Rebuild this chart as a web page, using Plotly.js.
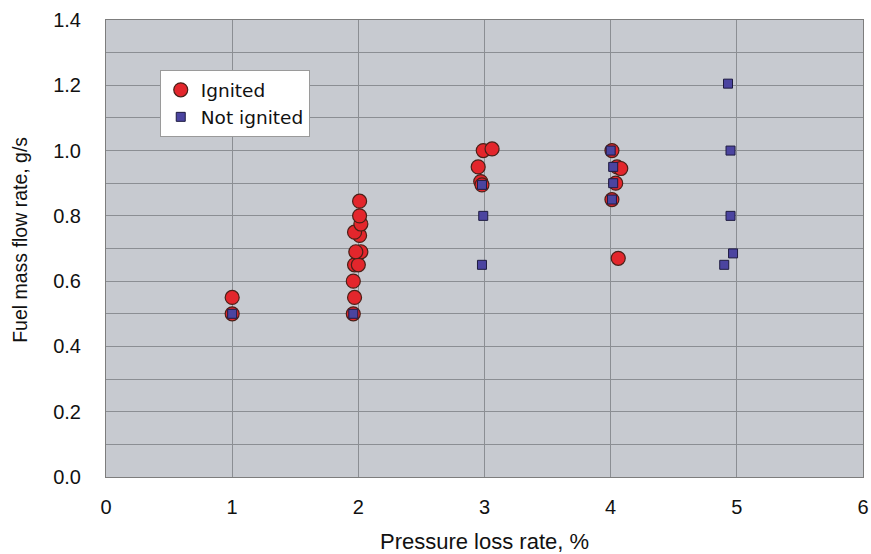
<!DOCTYPE html>
<html>
<head>
<meta charset="utf-8">
<script src="https://cdn.plot.ly/plotly-3.0.1.min.js"></script>
<style>html,body{margin:0;padding:0;background:#fff;}#chart{width:871px;height:554px;}</style>
</head>
<body>
<div id="chart"></div>
<script>
// Ignited (red circles)
const ignitedX = [1.00, 1.00, 1.96, 1.97, 1.96, 1.97, 2.00, 2.02, 1.98, 2.01, 1.97, 2.02, 2.01, 2.01, 2.99, 3.06, 2.95, 2.97, 2.98, 4.01, 4.05, 4.08, 4.04, 4.01, 4.06];
const ignitedY = [0.55, 0.50, 0.50, 0.55, 0.60, 0.65, 0.65, 0.69, 0.69, 0.74, 0.75, 0.775, 0.80, 0.845, 1.00, 1.005, 0.95, 0.905, 0.895, 1.00, 0.95, 0.945, 0.90, 0.85, 0.67];
// Not ignited (blue squares)
const notX = [1.00, 1.96, 2.98, 2.99, 2.98, 4.00, 4.02, 4.02, 4.01, 4.93, 4.95, 4.95, 4.97, 4.90];
const notY = [0.50, 0.50, 0.895, 0.80, 0.65, 1.00, 0.95, 0.90, 0.85, 1.205, 1.00, 0.80, 0.685, 0.65];

const xTicks = [0, 1, 2, 3, 4, 5, 6];
const yTicks = [0.0, 0.2, 0.4, 0.6, 0.8, 1.0, 1.2, 1.4];
const yTickText = yTicks.map(v => v.toFixed(1));
const yTitle = 'Fuel mass flow rate, g/s';
const xTitle = 'Pressure loss rate, %';

const font = "'Liberation Sans', Arial, sans-serif";

const traces = [
  {
    x: ignitedX, y: ignitedY, mode: 'markers', type: 'scatter', name: 'Ignited',
    marker: {symbol: 'circle', size: 14, color: '#e3262c', line: {color: '#4a2018', width: 1.2}}
  },
  {
    x: notX, y: notY, mode: 'markers', type: 'scatter', name: 'Not ignited',
    marker: {symbol: 'square', size: 9, color: '#4b44a0', line: {color: '#1e1b40', width: 1}}
  }
];

const layout = {
  width: 871, height: 554,
  margin: {l: 106, r: 8, t: 20, b: 77},
  paper_bgcolor: '#ffffff',
  plot_bgcolor: '#c7cad0',
  showlegend: true,
  legend: {
    x: 0.071, y: 0.89, xanchor: 'left', yanchor: 'top',
    bgcolor: '#ffffff', bordercolor: '#9a9a9a', borderwidth: 1,
    font: {family: "'DejaVu Sans', sans-serif", size: 18.5, color: '#111'},
    tracegroupgap: 0
  },
  xaxis: {
    range: [0, 6], tickvals: xTicks, ticktext: xTicks.map(String),
    showgrid: true, gridcolor: '#8b8e93', gridwidth: 1,
    zeroline: false, showline: true, linecolor: '#7d7d7d', linewidth: 1, mirror: true,
    ticks: 'outside', ticklen: 12, tickcolor: 'rgba(0,0,0,0)',
    tickfont: {family: font, size: 20, color: '#111'},
    title: {text: xTitle, font: {family: font, size: 22, color: '#111'}, standoff: 18}
  },
  yaxis: {
    range: [0, 1.4], tickvals: yTicks, ticktext: yTickText,
    showgrid: true, gridcolor: '#8b8e93', gridwidth: 1,
    minor: {dtick: 0.1, tick0: 0, showgrid: true, gridcolor: '#8b8e93', gridwidth: 1, ticks: ''},
    zeroline: false, showline: true, linecolor: '#7d7d7d', linewidth: 1, mirror: true,
    ticks: 'outside', ticklen: 20, tickcolor: 'rgba(0,0,0,0)',
    tickfont: {family: font, size: 20, color: '#111'}
  },
  annotations: [{
    text: yTitle, textangle: -90, showarrow: false,
    xref: 'paper', yref: 'paper', x: -0.113, y: 0.52,
    xanchor: 'center', yanchor: 'middle',
    font: {family: font, size: 19.5, color: '#111'}
  }]
};

Plotly.newPlot('chart', traces, layout, {displayModeBar: false, staticPlot: true});
</script>
</body>
</html>
